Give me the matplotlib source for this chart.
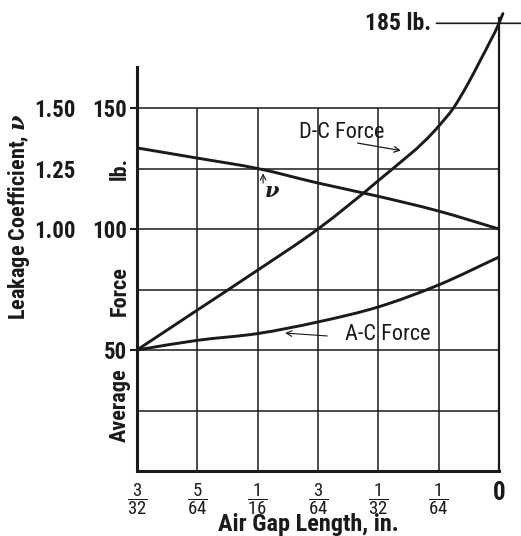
import matplotlib
matplotlib.use("Agg")
import matplotlib.pyplot as plt
from matplotlib import font_manager
import matplotlib.transforms as mtransforms
from matplotlib.path import Path
from matplotlib.patches import PathPatch

# ---------------- data ----------------
gap_ticks = [3/32, 5/64, 1/16, 3/64, 1/32, 1/64, 0.0]
gap_tick_labels = [r"$\dfrac{3}{32}$", r"$\dfrac{5}{64}$", r"$\dfrac{1}{16}$",
                   r"$\dfrac{3}{64}$", r"$\dfrac{1}{32}$", r"$\dfrac{1}{64}$", "0"]

dc_gap = [3/32, 5/64, 1/16, 3/64, 1/32, 1/64, 0.0118, 0.0084, 0.0049, 0.0023, 0.0, -0.001]
dc_force = [50, 66.5, 83, 100, 120, 142.5, 150, 159, 169.5, 177.5, 185, 189]

ac_gap = [3/32, 5/64, 1/16, 3/64, 1/32, 1/64, 0.0]
ac_force = [50, 54, 56.8, 61.6, 67.8, 76.9, 88.4]

nu_gap = [3/32, 5/64, 1/16, 3/64, 1/32, 1/64, 0.0]
nu_value = [1.335, 1.293, 1.25, 1.19, 1.135, 1.074, 1.00]

force_ticks = [50, 100, 150]
force_grid = [25, 50, 75, 100, 125, 150]
nu_ticks = [1.00, 1.25, 1.50]
nu_tick_labels = ["1.00", "1.25", "1.50"]

# ---------------- fonts ----------------
available = {f.name for f in font_manager.fontManager.ttflist}
fam = "DejaVu Sans"
for cand in ["Liberation Sans Narrow", "Roboto Condensed", "DejaVu Sans Condensed", "Liberation Sans"]:
    if cand in available:
        fam = cand
        break
plt.rcParams["font.family"] = [fam, "DejaVu Sans"]
plt.rcParams["mathtext.fontset"] = "custom"
plt.rcParams["mathtext.rm"] = fam
plt.rcParams["mathtext.bf"] = fam + ":bold"
plt.rcParams["mathtext.it"] = "DejaVu Serif:italic:bold"


def smooth_path(xs, ys):
    """Cubic Hermite (Bezier) path through the points, x monotonic."""
    n = len(xs)
    h = [xs[i + 1] - xs[i] for i in range(n - 1)]
    s = [(ys[i + 1] - ys[i]) / h[i] for i in range(n - 1)]
    m = [s[0]]
    for i in range(1, n - 1):
        m.append((h[i - 1] * s[i] + h[i] * s[i - 1]) / (h[i - 1] + h[i]))
    m.append(s[-1])
    verts = [(xs[0], ys[0])]
    codes = [Path.MOVETO]
    for i in range(n - 1):
        c1 = (xs[i] + h[i] / 3, ys[i] + m[i] * h[i] / 3)
        c2 = (xs[i + 1] - h[i] / 3, ys[i + 1] - m[i + 1] * h[i] / 3)
        verts += [c1, c2, (xs[i + 1], ys[i + 1])]
        codes += [Path.CURVE4] * 3
    return Path(verts, codes)


W, H = 521, 536
fig = plt.figure(figsize=(W / 100, H / 100), dpi=100)
ax = fig.add_axes([137 / W, 1 - 471 / H, 362 / W, 461 / H])
ax.set_xlim(3/32, 0.0)
ax.set_ylim(0, 190.5)

ax2 = ax.twinx()
ax2.set_ylim(0, 1.905)
ax2.set_xlim(3/32, 0.0)

ink = "#1a1a1a"

# grid
ax.vlines(gap_ticks, 0, 150, color=ink, lw=1.1, zorder=1)
ax.hlines(force_grid, 3/32, 0.0, color=ink, lw=1.1, zorder=1)

# curves
ax.add_patch(PathPatch(smooth_path(dc_gap, dc_force), fill=False, ec=ink, lw=2.1,
                       zorder=3, clip_on=False, capstyle="round"))
ax.add_patch(PathPatch(smooth_path(ac_gap, ac_force), fill=False, ec=ink, lw=2.1, zorder=3))
ax2.add_patch(PathPatch(smooth_path(nu_gap, nu_value), fill=False, ec=ink, lw=2.1, zorder=3))

# spines
ax.spines["top"].set_visible(False)
for s in ["left", "right", "bottom", "top"]:
    ax2.spines[s].set_visible(False)
ax.spines["left"].set_linewidth(2.2)
ax.spines["bottom"].set_linewidth(2.2)
ax.spines["right"].set_linewidth(1.6)
ax.spines["left"].set_bounds(0, 167)
ax.spines["right"].set_bounds(0, 187)
for s in ["left", "right", "bottom"]:
    ax.spines[s].set_color(ink)

# ticks
ax.set_yticks(force_ticks)
ax.set_yticklabels([str(v) for v in force_ticks], fontsize=16.5, fontweight="bold", color=ink)
ax.tick_params(axis="y", length=5, width=1.5, pad=2, color=ink, right=False)
ax2.yaxis.tick_left()
ax2.set_yticks(nu_ticks)
ax2.set_yticklabels(nu_tick_labels, fontsize=16.5, fontweight="bold", color=ink)
ax2.tick_params(axis="y", length=0, pad=44)

ax.set_xticks(gap_ticks)
ax.set_xticklabels(gap_tick_labels, fontsize=13.5, color=ink)
ax.tick_params(axis="x", length=0, pad=7)
ax.get_xticklabels()[-1].set_fontsize(18)
ax.get_xticklabels()[-1].set_fontweight("bold")

# axis titles
blend = mtransforms.blended_transform_factory(ax.transAxes, ax.transData)
ylab = dict(rotation=90, ha="center", va="center", fontsize=16, fontweight="bold",
            color=ink, transform=blend)
ax.text(-0.047, 125, "lb.", **ylab)
ax.text(-0.047, 74.5, "Force", **ylab)
ax.text(-0.047, 27, "Average", **ylab)
ax.text(-0.326, 105, r"Leakage Coefficient, $\nu$", **ylab)
ax.text(0.474, -0.117, "Air Gap Length, in.", transform=ax.transAxes, ha="center",
        va="center", fontsize=17.5, fontweight="bold", color=ink)

# annotations
ax.text(0.0407, 139.7, "D-C Force", ha="center", va="center", fontsize=16, color=ink)
ax.annotate("", xy=(0.0254, 132.4), xytext=(0.0366, 135.5),
            arrowprops=dict(arrowstyle="->", lw=0.9, color=ink, shrinkA=0, shrinkB=0))
ax.text(0.0588, 115.5, r"$\nu$", ha="center", va="center", fontsize=15, color=ink)
ax.annotate("", xy=(0.0611, 123.0), xytext=(0.0611, 119.0),
            arrowprops=dict(arrowstyle="->", lw=0.8, color=ink, shrinkA=0, shrinkB=0))
ax.text(0.0287, 56.6, "A-C Force", ha="center", va="center", fontsize=16, color=ink)
ax.annotate("", xy=(0.0554, 57.0), xytext=(0.0445, 55.8),
            arrowprops=dict(arrowstyle="->", lw=0.8, color=ink, shrinkA=0, shrinkB=0))
ax.annotate("185 lb.", xy=(-0.0057, 185), xytext=(0.0262, 185),
            ha="center", va="center", fontsize=17, fontweight="bold", color=ink,
            annotation_clip=False,
            arrowprops=dict(arrowstyle="-", lw=1.2, color=ink, shrinkA=2, shrinkB=0))

fig.savefig("out.png", dpi=100)
